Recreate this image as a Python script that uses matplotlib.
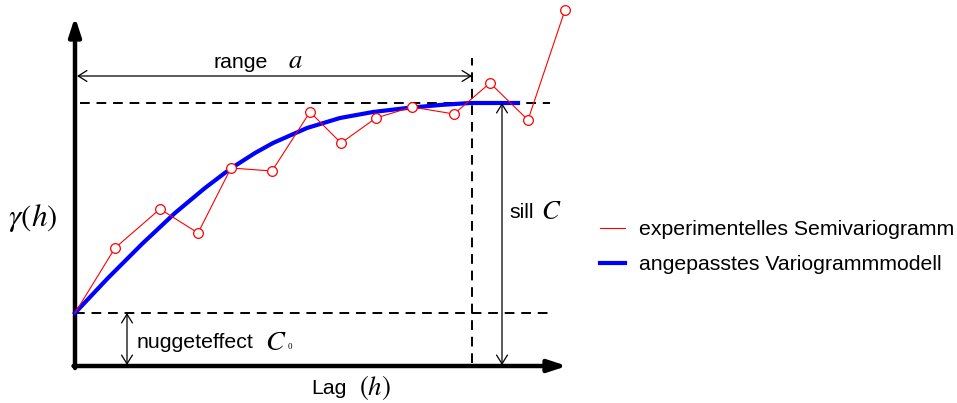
import matplotlib
matplotlib.use("Agg")
import matplotlib.pyplot as plt

plt.rcParams['font.family'] = ['Liberation Sans', 'DejaVu Sans']
plt.rcParams['mathtext.fontset'] = 'stix'

# experimental semivariogram (lag, gamma)
exp_lag = [0, 4.0, 8.5, 12.3, 15.6, 19.7, 23.5, 26.6, 30.1, 33.7, 37.9, 41.5, 45.3, 49.0]
exp_gamma = [5.3, 11.8, 15.7, 13.3, 19.8, 19.5, 25.4, 22.3, 24.8, 25.9, 25.2, 28.3, 24.6, 35.6]

# fitted model curve
model_lag = [0, 3.3, 6.7, 10.0, 13.0, 15.5, 18.0, 19.8, 23.2, 26.5, 29.8, 33.2, 36.5, 39.5, 44.3]
model_gamma = [5.3, 8.8, 12.2, 15.3, 17.8, 19.7, 21.3, 22.3, 23.8, 24.8, 25.4, 25.8, 26.1, 26.3, 26.3]

nugget = 5.3
sill = 26.3
range_a = 39.7

fig = plt.figure(figsize=(9.57, 4.03), dpi=100)
ax = fig.add_axes([0, 0, 1, 1])
ax.set_xlim(-7.5, 88.2)
ax.set_ylim(-3.7, 36.6)
ax.axis('off')

fs = 15.3

# axes with arrows
ax.annotate('', xy=(0, 34.9), xytext=(0, -0.2),
            arrowprops=dict(arrowstyle='-|>,head_length=0.55,head_width=0.18',
                            lw=3.2, color='black', mutation_scale=20,
                            shrinkA=0, shrinkB=0))
ax.annotate('', xy=(49.2, 0), xytext=(-0.15, 0),
            arrowprops=dict(arrowstyle='-|>,head_length=0.55,head_width=0.18',
                            lw=3.2, color='black', mutation_scale=20,
                            shrinkA=0, shrinkB=0))

# dashed reference lines
dash = dict(color='black', lw=1.4, linestyle=(0, (5, 3.5)))
ax.plot([0, 47.5], [nugget, nugget], **dash)
ax.plot([0.5, 47.5], [sill, sill], **dash)
ax.plot([range_a, range_a], [0.3, 30.8], **dash)

# data
ax.plot(exp_lag, exp_gamma, color='red', lw=0.8, marker='o', markersize=7,
        markerfacecolor='white', markeredgecolor='red', markeredgewidth=0.9,
        markevery=list(range(1, len(exp_lag))), label='experimentelles Semivariogramm', zorder=4)
ax.plot(model_lag, model_gamma, color='#0000ff', lw=3, label='angepasstes Variogrammmodell',
        zorder=3, solid_joinstyle='round')

# dimension arrows
thin = dict(arrowstyle='<->,head_length=0.45,head_width=0.28', lw=0.9, color='black',
            mutation_scale=14, shrinkA=0, shrinkB=0)
ax.annotate('', xy=(0.2, 29.0), xytext=(range_a, 29.0), arrowprops=thin)
ax.annotate('', xy=(42.7, sill), xytext=(42.7, 0.1), arrowprops=thin)
ax.annotate('', xy=(5.2, nugget), xytext=(5.2, 0.1), arrowprops=thin)

# labels
ax.text(16.6, 30.4, 'range', fontsize=fs, ha='center', va='center')
ax.text(22.0, 30.5, '$a$', fontsize=fs + 4, ha='center', va='center')
ax.text(44.7, 15.4, 'sill', fontsize=fs, ha='center', va='center')
ax.text(47.6, 15.4, '$C$', fontsize=fs + 4, ha='center', va='center')
ax.text(12.0, 2.3, 'nuggeteffect', fontsize=fs, ha='center', va='center')
ax.text(20.1, 2.3, '$C$', fontsize=fs + 5, ha='center', va='center')
ax.text(21.5, 1.9, '0', fontsize=6.5, ha='center', va='center', family='Liberation Serif')
ax.text(-4.2, 14.8, '$\\gamma(h)$', fontsize=fs + 7, ha='center', va='center')
ax.text(25.4, -2.2, 'Lag', fontsize=fs, ha='center', va='center')
ax.text(30.0, -2.1, '$(h)$', fontsize=fs + 4, ha='center', va='center')

leg = ax.legend(loc='center left', bbox_to_anchor=(0.6065, 0.387), frameon=False,
                fontsize=fs, handlelength=1.18, handletextpad=0.7, labelspacing=0.75)
for h in leg.get_lines():
    h.set_marker('')

fig.savefig('out.png', dpi=100)
